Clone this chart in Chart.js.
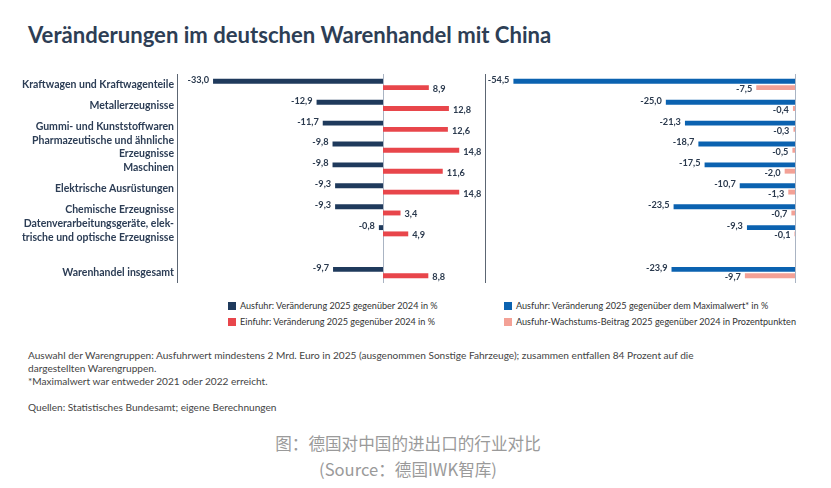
<!DOCTYPE html>
<html>
<head>
<meta charset="utf-8">
<script src="https://cdn.jsdelivr.net/npm/chart.js@4.4.1/dist/chart.umd.min.js"></script>
<style>
  html, body { margin: 0; padding: 0; background: #ffffff; }
  #wrap { position: relative; width: 831px; height: 488px; overflow: hidden; background: #fff; }
  .abs { position: absolute; white-space: nowrap; }
  #title { left: 28px; top: 21px; font: 700 22.1px Lato, sans-serif; color: #2d3e55; }
  #cL { position: absolute; left: 0; top: 74px; }
  #cR { position: absolute; left: 484px; top: 74px; }
  .leg { position: absolute; font: 400 9.1px Lato, sans-serif; color: #333; display: flex; align-items: center; }
  .leg i { display: inline-block; width: 8px; height: 8px; margin-right: 4px; }
  .note { font: 400 10.1px Lato, sans-serif; color: #444; left: 28px; }
  .cap { left: 0; width: 816px; text-align: center; font: 400 16.6px "Noto Sans CJK SC", sans-serif; color: #9a9a9a; }
</style>
</head>
<body>
<div id="wrap">
  <div id="title" class="abs">Veränderungen im deutschen Warenhandel mit China</div>
  <canvas id="cL" width="486" height="209"></canvas>
  <canvas id="cR" width="347" height="209"></canvas>
  <div id="legends"></div>
  <div class="abs note" style="top:349px">Auswahl der Warengruppen: Ausfuhrwert mindestens 2 Mrd. Euro in 2025 (ausgenommen Sonstige Fahrzeuge); zusammen entfallen 84 Prozent auf die</div>
  <div class="abs note" style="top:362px">dargestellten Warengruppen.</div>
  <div class="abs note" style="top:375px">*Maximalwert war entweder 2021 oder 2022 erreicht.</div>
  <div class="abs note" style="top:401px">Quellen: Statistisches Bundesamt; eigene Berechnungen</div>
  <div class="abs cap" style="top:431px">图：德国对中国的进出口的行业对比</div>
  <div class="abs cap" style="top:457px">(Source：德国IWK智库)</div>
</div>
<script>
// ---- data ----
const categories = [
  'Kraftwagen und Kraftwagenteile',
  'Metallerzeugnisse',
  'Gummi- und Kunststoffwaren',
  ['Pharmazeutische und ähnliche', 'Erzeugnisse'],
  'Maschinen',
  'Elektrische Ausrüstungen',
  'Chemische Erzeugnisse',
  ['Datenverarbeitungsgeräte, elek-', 'trische und optische Erzeugnisse'],
  '',
  'Warenhandel insgesamt'
];
const exportChange2024 = [-33.0, -12.9, -11.7, -9.8, -9.8, -9.3, -9.3, -0.8, null, -9.7];
const importChange2024 = [8.9, 12.8, 12.6, 14.8, 11.6, 14.8, 3.4, 4.9, null, 8.8];
const exportChangeMax = [-54.5, -25.0, -21.3, -18.7, -17.5, -10.7, -23.5, -9.3, null, -23.9];
const exportGrowthContribution = [-7.5, -0.4, -0.3, -0.5, -2.0, -1.3, -0.7, -0.1, null, -9.7];
const seriesNames = [
  'Ausfuhr: Veränderung 2025 gegenüber 2024 in %',
  'Einfuhr: Veränderung 2025 gegenüber 2024 in %',
  'Ausfuhr: Veränderung 2025 gegenüber dem Maximalwert* in %',
  'Ausfuhr-Wachstums-Beitrag 2025 gegenüber 2024 in Prozentpunkten'
];
const colors = ['#1f3a5c', '#e8464b', '#0b62b0', '#f3a196'];

const FONT = 'Lato, sans-serif';
const fmt = v => v.toFixed(1).replace('.', ',');

const valueLabels = {
  id: 'valueLabels',
  afterDatasetsDraw(chart) {
    const ctx = chart.ctx;
    ctx.save();
    ctx.font = '700 9.2px ' + FONT;
    ctx.fillStyle = '#2b3a4e';
    ctx.textBaseline = 'middle';
    chart.data.datasets.forEach((ds, di) => {
      const meta = chart.getDatasetMeta(di);
      meta.data.forEach((bar, i) => {
        const v = ds.data[i];
        if (v === null || v === undefined) return;
        const dy = di === 0 ? -1.5 : 1.5;
        if (v < 0) {
          ctx.textAlign = 'right';
          ctx.fillText(fmt(v), bar.x - 4, bar.y + dy);
        } else {
          ctx.textAlign = 'left';
          ctx.fillText(fmt(v), bar.x + 4, bar.y + dy);
        }
      });
    });
    ctx.restore();
  }
};

const axisLines = {
  id: 'axisLines',
  beforeDatasetsDraw(chart, args, opts) {
    const ctx = chart.ctx, a = chart.chartArea, xs = chart.scales.x;
    ctx.save();
    ctx.lineWidth = 1;
    ctx.strokeStyle = '#aab4c3';
    const x0 = Math.round(xs.getPixelForValue(0)) + 0.5;
    ctx.beginPath(); ctx.moveTo(x0, a.top); ctx.lineTo(x0, a.bottom); ctx.stroke();
    if (opts.leftLine) {
      ctx.strokeStyle = '#5c6673';
      const xl = Math.round(a.left) + 0.5;
      ctx.beginPath(); ctx.moveTo(xl, a.top); ctx.lineTo(xl, a.bottom); ctx.stroke();
    }
    ctx.restore();
  }
};

function barDs(label, data, color) {
  return { label, data, backgroundColor: color, borderWidth: 0,
           categoryPercentage: 0.6, barPercentage: 0.78 };
}

new Chart(document.getElementById('cL'), {
  type: 'bar',
  data: { labels: categories, datasets: [
    barDs(seriesNames[0], exportChange2024, colors[0]),
    barDs(seriesNames[1], importChange2024, colors[1])
  ]},
  options: {
    indexAxis: 'y', responsive: false, animation: false,
    layout: { padding: 0 },
    plugins: { legend: { display: false }, tooltip: { enabled: false }, axisLines: { leftLine: false } },
    scales: {
      x: { display: false, min: -40, max: 20 },
      y: {
        grid: { display: false, drawTicks: false },
        border: { display: true, color: '#5c6673', width: 1 },
        afterFit(s) { s.width = 177; s.paddingTop = 0; s.paddingBottom = 0; },
        ticks: { padding: 3, color: '#2c3d55', font: { family: FONT, size: 10.5, weight: '700', lineHeight: 1.3 }, autoSkip: false }
      }
    }
  },
  plugins: [axisLines, valueLabels]
});

new Chart(document.getElementById('cR'), {
  type: 'bar',
  data: { labels: categories, datasets: [
    barDs(seriesNames[2], exportChangeMax, colors[2]),
    barDs(seriesNames[3], exportGrowthContribution, colors[3])
  ]},
  options: {
    indexAxis: 'y', responsive: false, animation: false,
    layout: { padding: { left: 1, right: 36, top: 0, bottom: 0 } },
    plugins: { legend: { display: false }, tooltip: { enabled: false }, axisLines: { leftLine: true } },
    scales: {
      x: { display: false, min: -60, max: 0 },
      y: { display: false }
    }
  },
  plugins: [axisLines, valueLabels]
});

// legends built from series names/colors
const legPos = [[228, 300], [228, 316], [504, 300], [504, 316]];
const legHost = document.getElementById('legends');
seriesNames.forEach((n, i) => {
  const d = document.createElement('div');
  d.className = 'leg';
  d.style.left = legPos[i][0] + 'px';
  d.style.top = legPos[i][1] + 'px';
  d.innerHTML = '<i style="background:' + colors[i] + '"></i><span></span>';
  d.querySelector('span').textContent = n;
  legHost.appendChild(d);
});
</script>
</body>
</html>
